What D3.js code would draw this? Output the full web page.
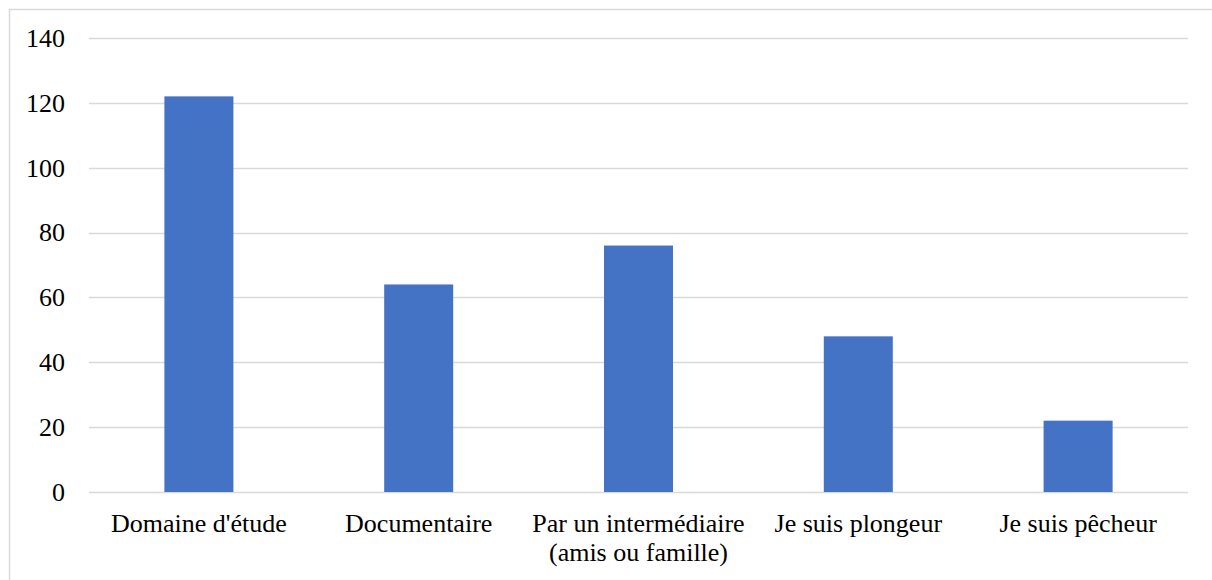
<!DOCTYPE html>
<html>
<head>
<meta charset="utf-8">
<script src="https://cdn.jsdelivr.net/npm/d3@7"></script>
<style>
  html, body { margin: 0; padding: 0; background: #fff; }
  svg text { font-family: 'Liberation Serif', 'Times New Roman', 'DejaVu Serif', 'Noto Serif', serif; }
</style>
</head>
<body>
<svg id="chart" width="1212" height="580"></svg>
<script>
// data
const categories = [
  "Domaine d'étude",
  "Documentaire",
  "Par un intermédiaire\n(amis ou famille)",
  "Je suis plongeur",
  "Je suis pêcheur"
];
const values = [122, 64, 76, 48, 22];
const yTicks = [0, 20, 40, 60, 80, 100, 120, 140];

const width = 1212, height = 580;
const margin = { top: 38, right: 24, bottom: 88, left: 89 };
const serif = "'Liberation Serif', 'Times New Roman', 'DejaVu Serif', 'Noto Serif', serif";
const fontSize = '26px';

const svg = d3.select('#chart');

// outer frame (only top/left visible in the reference)
svg.append('rect')
  .attr('x', 9.5).attr('y', 9.5)
  .attr('width', width + 20).attr('height', height + 20)
  .attr('fill', 'none')
  .attr('stroke', '#d9d9d9')
  .attr('stroke-width', 1.5);

const x = d3.scaleBand()
  .domain(categories)
  .range([margin.left, width - margin.right])
  .paddingInner(0.686)
  .paddingOuter(0.343);

const y = d3.scaleLinear()
  .domain([0, 140])
  .range([height - margin.bottom, margin.top]);

// gridlines
svg.append('g')
  .selectAll('line')
  .data(yTicks)
  .enter()
  .append('line')
  .attr('x1', margin.left)
  .attr('x2', width - margin.right)
  .attr('y1', d => Math.round(y(d)) + 0.5)
  .attr('y2', d => Math.round(y(d)) + 0.5)
  .attr('stroke', '#d9d9d9')
  .attr('stroke-width', 1.5);

// bars
svg.append('g')
  .selectAll('rect')
  .data(values)
  .enter()
  .append('rect')
  .attr('x', (d, i) => x(categories[i]))
  .attr('y', d => y(d))
  .attr('width', x.bandwidth())
  .attr('height', d => y(0) - y(d))
  .attr('fill', '#4472c4');

// y axis labels
const yAxis = d3.axisLeft(y).tickValues(yTicks).tickSize(0).tickPadding(24);
svg.append('g')
  .attr('transform', `translate(${margin.left},0)`)
  .call(yAxis)
  .attr('font-family', null)
  .call(g => g.select('.domain').remove())
  .selectAll('text')
  .style('font-family', serif)
  .style('font-size', fontSize)
  .attr('fill', '#000');

// x axis labels (multi-line)
const xAxis = svg.append('g');
xAxis.selectAll('text')
  .data(categories)
  .enter()
  .append('text')
  .attr('x', d => x(d) + x.bandwidth() / 2)
  .attr('y', y(0) + 40)
  .attr('text-anchor', 'middle')
  .style('font-family', serif)
  .style('font-size', fontSize)
  .attr('fill', '#000')
  .each(function (d) {
    const lines = d.split('\n');
    d3.select(this).selectAll('tspan')
      .data(lines)
      .enter()
      .append('tspan')
      .attr('x', x(d) + x.bandwidth() / 2)
      .attr('dy', (l, i) => i === 0 ? 0 : 29)
      .text(l => l);
  });
</script>
</body>
</html>
